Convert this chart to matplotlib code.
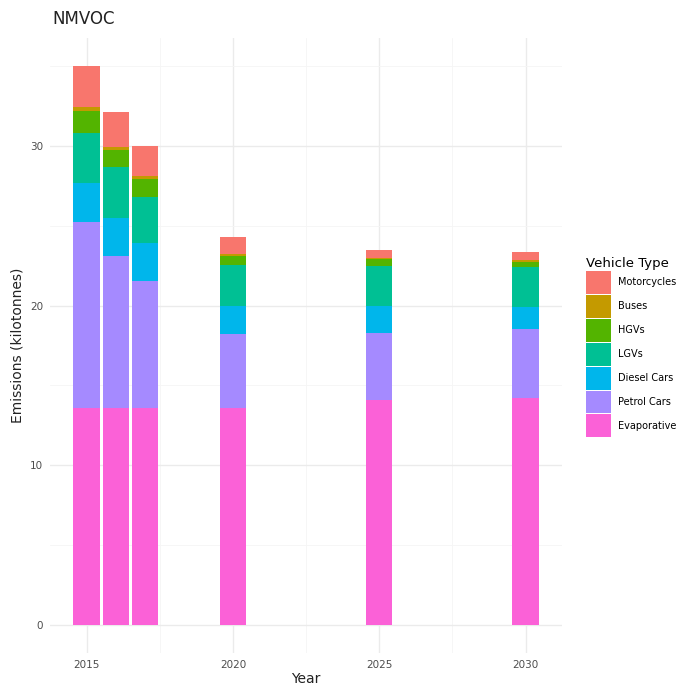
import matplotlib
matplotlib.use("Agg")
import matplotlib.pyplot as plt
from matplotlib.patches import Patch
import numpy as np

years = [2015, 2016, 2017, 2020, 2025, 2030]
categories = ["Evaporative", "Petrol Cars", "Diesel Cars", "LGVs", "HGVs", "Buses", "Motorcycles"]
evaporative = [13.6, 13.6, 13.6, 13.6, 14.1, 14.2]
petrol_cars = [11.6, 9.5, 7.95, 4.6, 4.2, 4.35]
diesel_cars = [2.5, 2.4, 2.35, 1.75, 1.7, 1.35]
lgvs = [3.1, 3.15, 2.9, 2.6, 2.5, 2.5]
hgvs = [1.4, 1.1, 1.1, 0.55, 0.4, 0.35]
buses = [0.2, 0.15, 0.2, 0.1, 0.1, 0.1]
motorcycles = [2.6, 2.2, 1.9, 1.1, 0.5, 0.5]
series = [evaporative, petrol_cars, diesel_cars, lgvs, hgvs, buses, motorcycles]
colors = ["#FB61D7", "#A58AFF", "#00B6EB", "#00C094", "#53B400", "#C49A00", "#F8766D"]

fig = plt.figure(figsize=(6.78, 6.89), dpi=100)
ax = fig.add_axes([0.074, 0.052, 0.755, 0.893])

bottom = np.zeros(len(years))
for vals, c in zip(series, colors):
    ax.bar(years, vals, width=0.9, bottom=bottom, color=c, linewidth=0, zorder=3)
    bottom += np.array(vals)

xmin, xmax = 2014.55, 2030.45
pad = (xmax - xmin) * 0.05
ax.set_xlim(xmin - pad, xmax + pad)
ymax = bottom.max()
ax.set_ylim(-ymax * 0.05, ymax * 1.05)

ax.set_xticks([2015, 2020, 2025, 2030])
ax.set_xticks([2017.5, 2022.5, 2027.5], minor=True)
ax.set_yticks([0, 10, 20, 30])
ax.set_yticks([5, 15, 25, 35], minor=True)
ax.grid(which="major", color="#EBEBEB", linewidth=1.0, zorder=0)
ax.grid(which="minor", color="#F5F5F5", linewidth=0.6, zorder=0)
for s in ax.spines.values():
    s.set_visible(False)
ax.tick_params(which="both", length=0)
ax.tick_params(axis="both", labelsize=7.5, labelcolor="#4D4D4D", pad=5)
ax.set_xlabel("Year", fontsize=10, color="#222222", labelpad=1)
ax.set_ylabel("Emissions (kilotonnes)", fontsize=10, color="#222222", labelpad=4)
fig.text(0.077, 0.972, "NMVOC", fontsize=12, color="#222222", va="center", ha="left")

handles = [Patch(facecolor=c, edgecolor="none", label=l) for l, c in zip(categories, colors)][::-1]
leg = fig.legend(handles=handles, title="Vehicle Type", loc="center left",
                 bbox_to_anchor=(0.858, 0.496), frameon=False, fontsize=7,
                 title_fontsize=9.5, handlelength=2.6, handleheight=3.25,
                 handletextpad=0.7, labelspacing=0.1, borderaxespad=0)
leg._legend_box.align = "left"

fig.savefig("out.png", dpi=100)
